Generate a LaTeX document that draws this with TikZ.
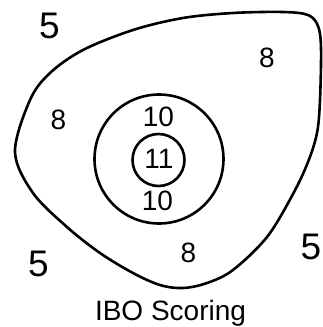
\documentclass[tikz,border=0pt]{standalone}
\usepackage{fontspec}
\setmainfont{Liberation Sans}
\usepackage{tikz}

\begin{document}
\begin{tikzpicture}[x=1pt,y=-1pt,
    ring/.style={draw=black,line width=2.6pt},
    bigscore/.style={font=\fontsize{37}{40}\selectfont,inner sep=0pt},
    score/.style={font=\fontsize{28}{32}\selectfont,inner sep=0pt}]
    \useasboundingbox (0,0) rectangle (322,327);
    % outer 8 zone
    \draw[ring] plot[smooth cycle,tension=0.55] coordinates {
      (15,152) (30,100) (50,73) (83,50) (133,30) (183,18) (233,13)
      (283,12) (308,15) (318,26) (321,48) (320,100) (317,133)
      (308,162) (293,194) (267,237) (233,270) (207,283) (183,288)
      (160,285) (133,273) (100,253) (67,227) (33,193)};
    % 10 and 11 rings
    \draw[ring] (159,159) circle (64.5);
    \draw[ring] (158.5,160) circle (26);
    % scores
    \node[bigscore] (fiveTL) at (49.5,26) {5};
    \node[bigscore] (fiveBL) at (38.5,264) {5};
    \node[bigscore] (fiveR) at (311,247) {5};
    \node[score] (eightTR) at (267,58) {8};
    \node[score] (eightL) at (58.5,120) {8};
    \node[score] (eightB) at (188.5,253) {8};
    \node[score] (tenT) at (158.5,116.5) {10};
    \node[score] (eleven) at (159,158.5) {11};
    \node[score] (tenB) at (157.5,200.5) {10};
    \node[score,anchor=base] (caption) at (170.5,320) {IBO Scoring};
\end{tikzpicture}
\end{document}
